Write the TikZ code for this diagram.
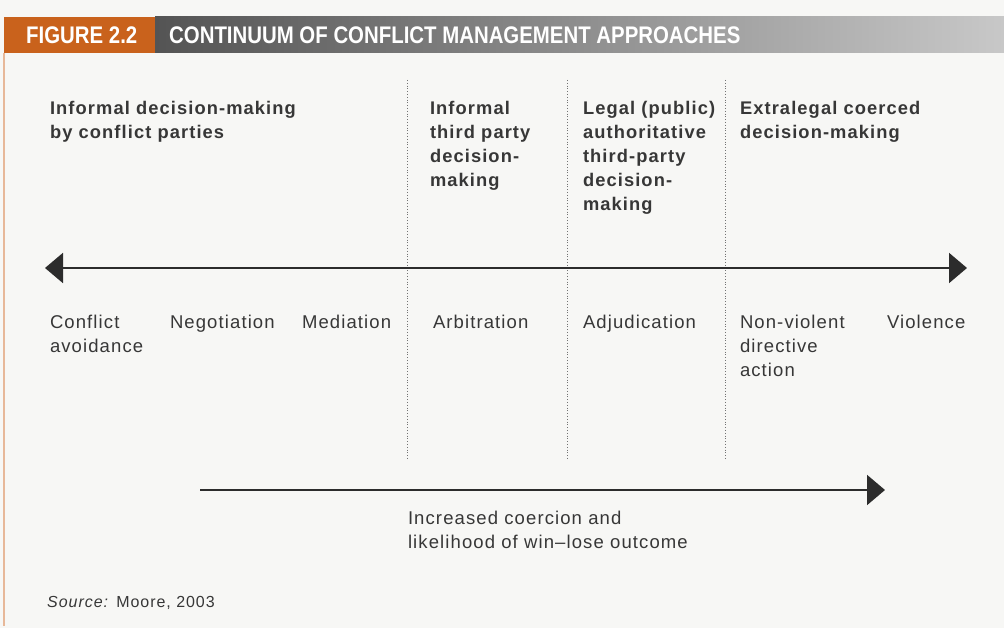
\documentclass[tikz,border=0pt]{standalone}
\usepackage{fontspec}
\setmainfont{Liberation Sans}
\newfontfamily\headfont[FakeStretch=0.85]{Liberation Sans}
\newfontfamily\labelfont[LetterSpace=6]{Liberation Sans}
\usetikzlibrary{positioning, arrows.meta, calc}
\definecolor{FigOrange}{RGB}{201, 98, 28}
\definecolor{FigBarDark}{RGB}{84, 84, 84}
\definecolor{FigBarLight}{RGB}{200, 200, 200}
\definecolor{FigInk}{RGB}{55, 55, 55}
\definecolor{FigPaper}{RGB}{247, 247, 245}

\begin{document}
\begin{tikzpicture}[x=1pt, y=-1pt,
  stage/.style={anchor=north west, inner sep=0pt, outer sep=0pt, align=left, text=FigInk, font=\labelfont\bfseries\fontsize{18.3}{24}\selectfont},
  approach/.style={stage, font=\labelfont\fontsize{18.5}{24}\selectfont},
  bigtip/.style={-{Triangle[length=18pt, width=30pt]}}]

\useasboundingbox (0,0) rectangle (1004,628);
\fill[FigPaper] (0,0) rectangle (1004,628);

% title bar
\fill[FigOrange] (4,17) rectangle (155,53);
\shade[left color=FigBarDark, right color=FigBarLight] (155,17) rectangle (1004,53);
\node[anchor=west, inner sep=0pt, text=white, font=\headfont\bfseries\fontsize{24}{24}\selectfont] (fignum) at (26,35) {FIGURE 2.2};
\node[anchor=west, inner sep=0pt, text=white, font=\headfont\bfseries\fontsize{24}{24}\selectfont] (figtitle) at (169,35) {CONTINUUM OF CONFLICT MANAGEMENT APPROACHES};

% frame
\draw[FigOrange!45, line width=1.5pt] (4,53) -- (4,626);

% dividers between the stages
\foreach \n/\x in {a/407, b/567, c/725} {
  \coordinate (top\n) at (\x, 80);
  \coordinate (bot\n) at (\x, 460);
  \draw[FigInk!70, dotted, line width=0.8pt] (top\n) -- (bot\n);
}

% who decides
\foreach \n/\x/\t in {parties/50/{Informal decision-making\\by conflict parties},
                      informal/430/{Informal\\third party\\decision-\\making},
                      legal/583/{Legal (public)\\authoritative\\third-party\\decision-\\making},
                      extralegal/740/{Extralegal coerced\\decision-making}}
  \node[stage] (\n) at (\x, 101) {\t};

% the continuum
\coordinate (westend) at (45,268);
\coordinate (eastend) at (967,268);
\draw[{Triangle[length=18pt, width=30pt]}-{Triangle[length=18pt, width=30pt]}, line width=2pt, FigInk!80!black] (westend) -- (eastend);

\foreach \n/\x/\t in {avoidance/50/{Conflict\\avoidance}, negotiation/170/Negotiation,
                      mediation/302/Mediation, arbitration/433/Arbitration,
                      adjudication/583/Adjudication, nonviolent/740/{Non-violent\\directive\\action},
                      violence/887/Violence}
  \node[approach] (\n) at (\x, 315) {\t};

% coercion arrow
\coordinate (weak) at (200,490);
\coordinate (strong) at (885,490);
\draw[bigtip, line width=2pt, FigInk!80!black] (weak) -- (strong);
\node[approach] (coercion) at (408,511) {Increased coercion and\\likelihood of win–lose outcome};

\node[anchor=north west, inner sep=0pt, text=FigInk, font=\labelfont\fontsize{16}{18}\selectfont] (source) at (47,596) {\textit{Source:} Moore, 2003};

\end{tikzpicture}
\end{document}
